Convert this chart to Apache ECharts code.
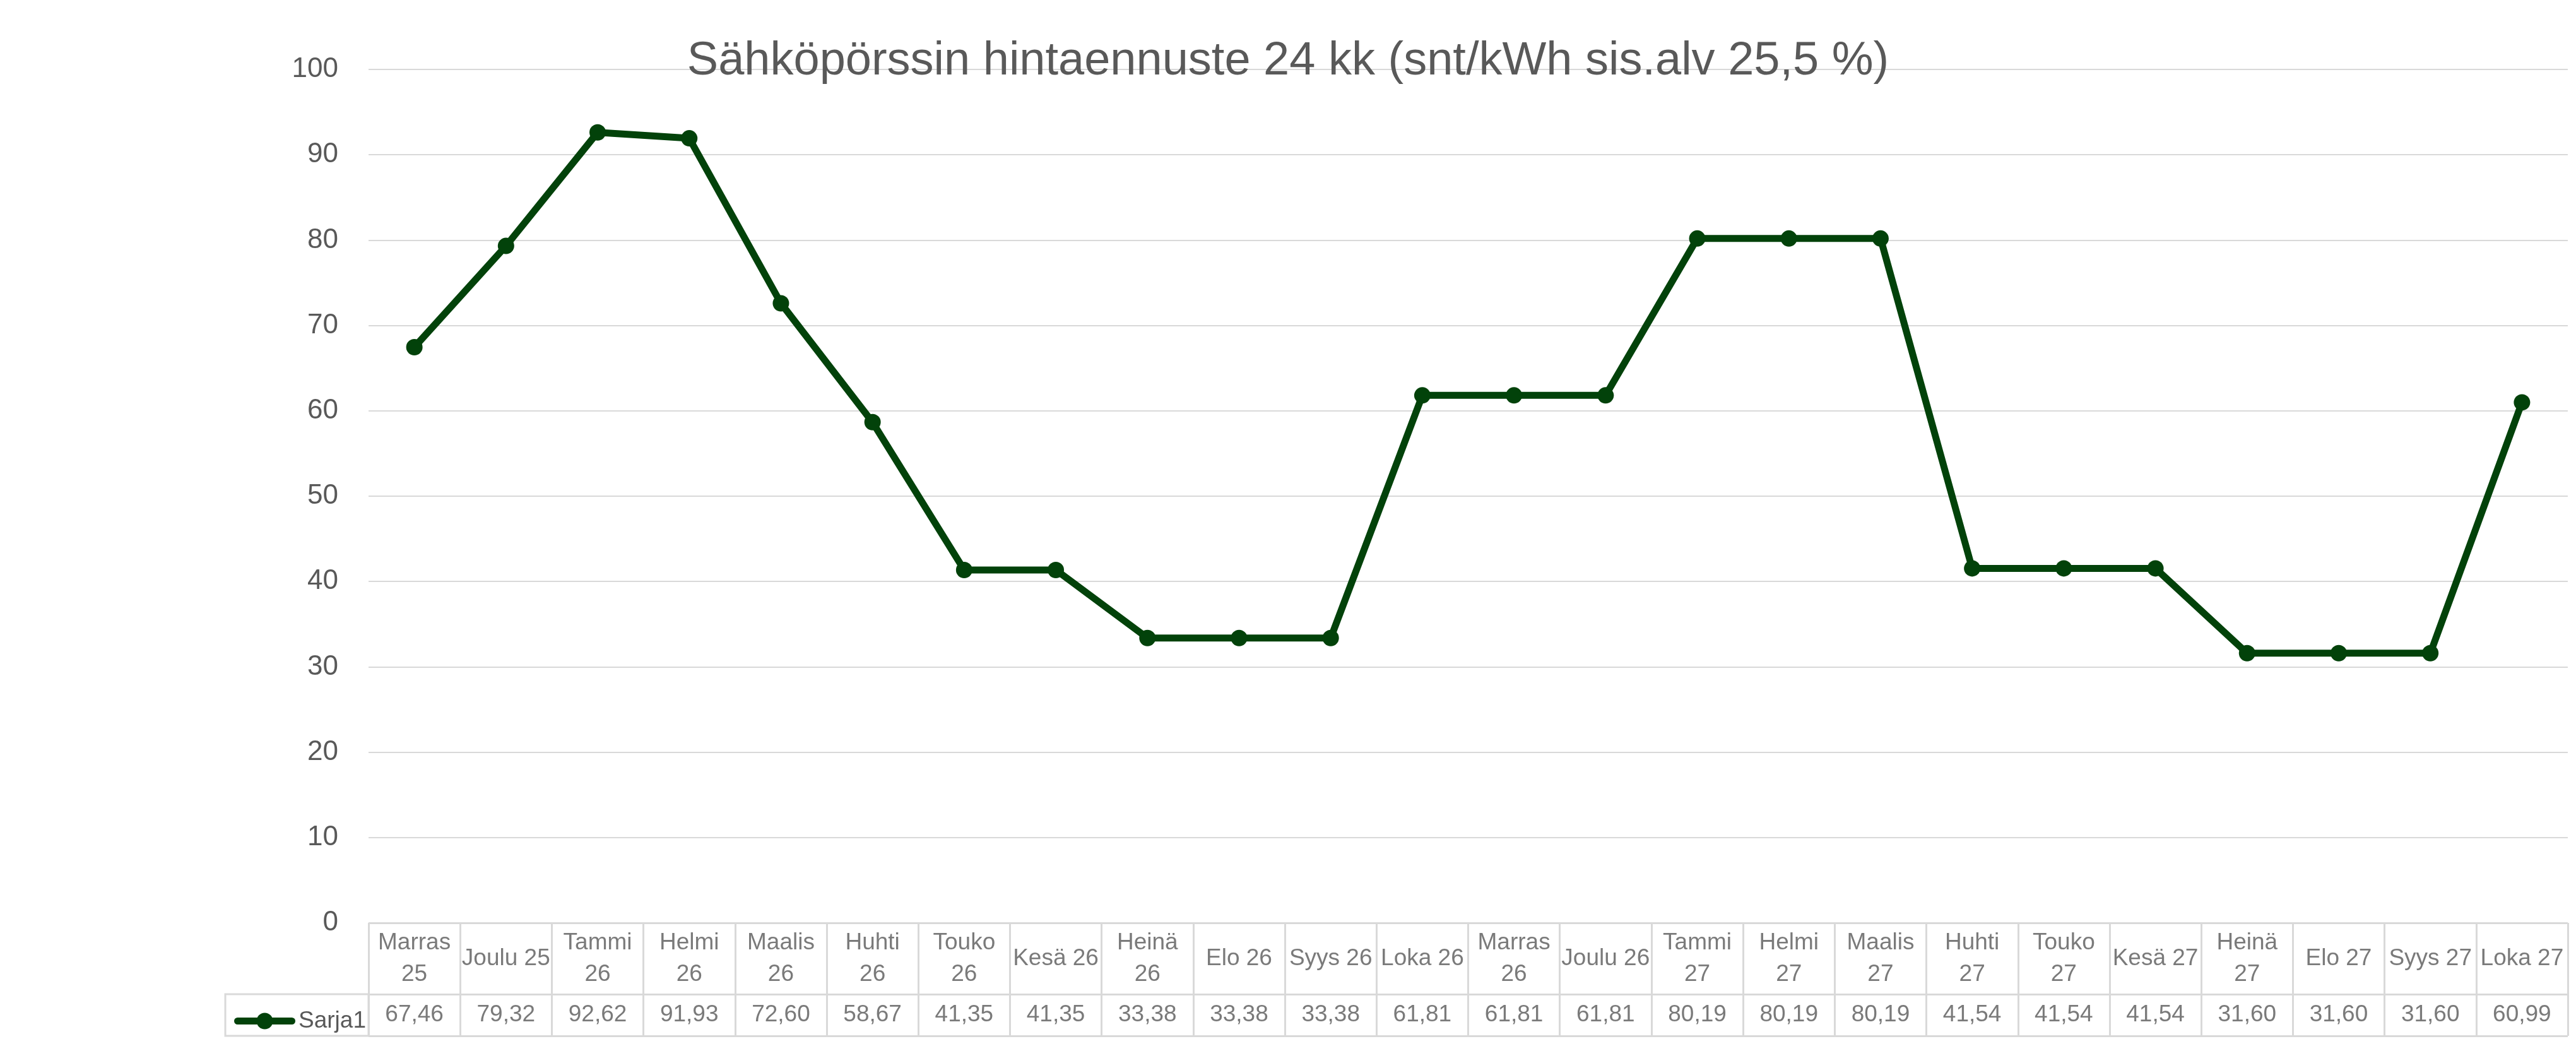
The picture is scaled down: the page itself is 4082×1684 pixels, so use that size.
<!DOCTYPE html>
<html>
<head>
<meta charset="utf-8">
<script src="https://cdn.jsdelivr.net/npm/echarts@6/dist/echarts.min.js"></script>
<style>html,body{margin:0;padding:0;background:#fff}#c{width:4082px;height:1684px}</style>
</head>
<body>
<div id="c"></div>
<script>
const titleText = 'Sähköpörssin hintaennuste 24 kk (snt/kWh sis.alv 25,5 %)';
const seriesName = 'Sarja1';
const categories = ['Marras\n25','Joulu 25','Tammi\n26','Helmi\n26','Maalis\n26','Huhti\n26','Touko\n26','Kesä 26','Heinä\n26','Elo 26','Syys 26','Loka 26','Marras\n26','Joulu 26','Tammi\n27','Helmi\n27','Maalis\n27','Huhti\n27','Touko\n27','Kesä 27','Heinä\n27','Elo 27','Syys 27','Loka 27'];
const values = [67.46,79.32,92.62,91.93,72.60,58.67,41.35,41.35,33.38,33.38,33.38,61.81,61.81,61.81,80.19,80.19,80.19,41.54,41.54,41.54,31.60,31.60,31.60,60.99];
const yMin = 0, yMax = 100, yStep = 10;

const FONT = "'Liberation Sans', Arial, sans-serif";
const TXT = '#595959';
const LINE = '#d9d9d9';
const GREEN = '#02420a';
const fmt = v => v.toFixed(2).replace('.', ',');
const legendIcon = 'path://M5.5,7.5H91.5A5.5,5.5 0 0,1 91.5,18.5H5.5A5.5,5.5 0 0,1 5.5,7.5Z M35.5,13A13,13 0 1,1 61.5,13A13,13 0 1,1 35.5,13Z';

const chart = echarts.init(document.getElementById('c'));
chart.setOption({
  backgroundColor: '#ffffff',
  animation: false,
  textStyle: { fontFamily: FONT },
  title: {
    text: titleText, left: 'center', top: 56,
    textStyle: { fontFamily: FONT, fontSize: 74, fontWeight: 'normal', color: TXT }
  },
  legend: {
    data: [{ name: seriesName, icon: legendIcon }], left: 366, top: 1594,
    itemWidth: 97, itemHeight: 26, itemGap: 0,
    textStyle: { fontFamily: FONT, fontSize: 37, color: TXT }
  },
  grid: [
    { left: 584, right: 13, top: 110, bottom: 222 },
    { left: 584, right: 13, top: 1462, height: 113 },
    { left: 584, right: 13, top: 1575, height: 66 }
  ],
  xAxis: [
    { type: 'category', gridIndex: 0, data: categories, boundaryGap: true,
      axisLine: { show: false }, axisTick: { show: false }, axisLabel: { show: false }, splitLine: { show: false } },
    { type: 'category', gridIndex: 1, data: categories, boundaryGap: true,
      axisLine: { show: false }, axisTick: { show: false }, axisLabel: { show: false },
      splitLine: { show: true, lineStyle: { color: LINE, width: 3 } } },
    { type: 'category', gridIndex: 2, data: categories, boundaryGap: true,
      axisLine: { show: false }, axisTick: { show: false }, axisLabel: { show: false },
      splitLine: { show: true, lineStyle: { color: LINE, width: 3 } } }
  ],
  yAxis: [
    { type: 'value', gridIndex: 0, min: yMin, max: yMax, interval: yStep,
      axisLine: { show: false }, axisTick: { show: false },
      axisLabel: { fontFamily: FONT, fontSize: 44, color: TXT, margin: 48 },
      splitLine: { lineStyle: { color: LINE, width: 2 } } },
    { type: 'value', gridIndex: 1, min: 0, max: 1, interval: 1,
      axisLine: { show: false }, axisTick: { show: false }, axisLabel: { show: false },
      splitLine: { show: true, lineStyle: { color: LINE, width: 3 } } },
    { type: 'value', gridIndex: 2, min: 0, max: 1, interval: 1,
      axisLine: { show: false }, axisTick: { show: false }, axisLabel: { show: false },
      splitLine: { show: true, lineStyle: { color: LINE, width: 3 } } }
  ],
  graphic: [
    { type: 'rect', shape: { x: 357, y: 1575, width: 227, height: 66 },
      style: { fill: 'none', stroke: LINE, lineWidth: 3 }, z: 0 }
  ],
  series: [
    { name: seriesName, type: 'line', xAxisIndex: 0, yAxisIndex: 0, data: values,
      symbol: 'circle', symbolSize: 26, showAllSymbol: true,
      lineStyle: { color: GREEN, width: 11, cap: 'round', join: 'round' }, itemStyle: { color: GREEN } },
    { name: 'hdr', type: 'scatter', xAxisIndex: 1, yAxisIndex: 1, symbolSize: 0, silent: true,
      data: categories.map((c, i) => [i, 0.5]),
      label: { show: true, position: 'inside', formatter: p => categories[p.dataIndex],
        fontFamily: FONT, fontSize: 37, lineHeight: 50, color: TXT, align: 'center', verticalAlign: 'middle' } },
    { name: 'val', type: 'scatter', xAxisIndex: 2, yAxisIndex: 2, symbolSize: 0, silent: true,
      data: values.map((v, i) => [i, 0.5]),
      label: { show: true, position: 'inside', formatter: p => fmt(values[p.dataIndex]),
        fontFamily: FONT, fontSize: 37, color: TXT, align: 'center', verticalAlign: 'middle' } }
  ]
});
</script>
</body>
</html>
